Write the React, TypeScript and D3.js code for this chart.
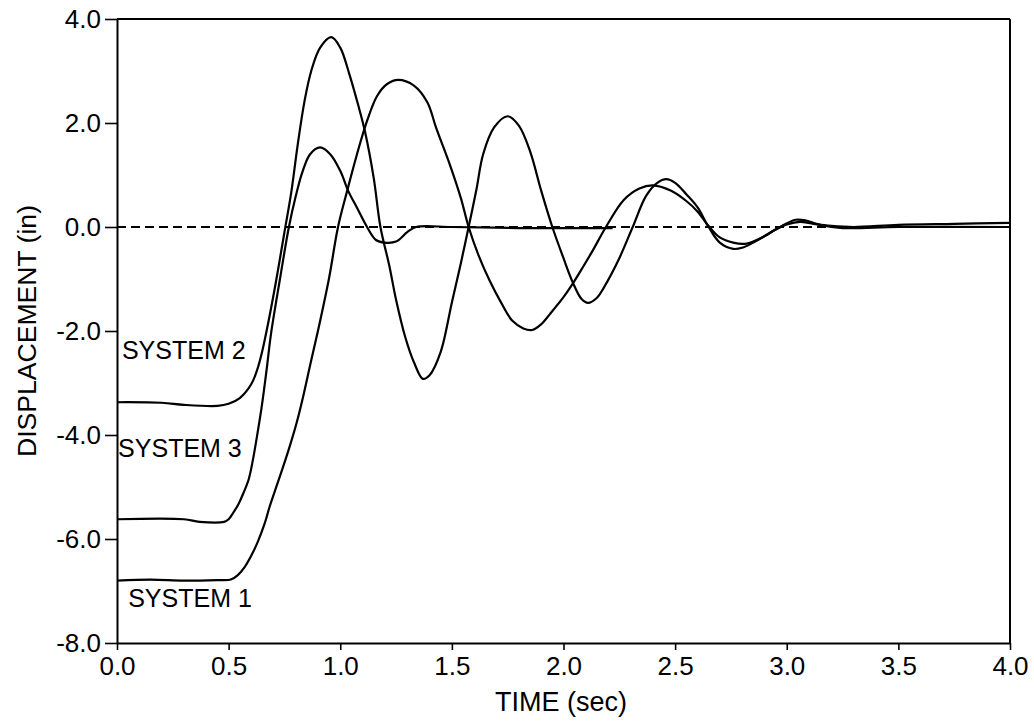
import React, { useEffect, useRef } from "react";
import * as d3 from "d3";

// ---- data ----
const sys1Time = [0, 0.15, 0.3, 0.45, 0.51, 0.54, 0.57, 0.6, 0.63, 0.66, 0.685, 0.715, 0.745, 0.775, 0.805, 0.835, 0.865, 0.9, 0.95, 0.99, 1.03, 1.075, 1.12, 1.165, 1.21, 1.26, 1.33, 1.39, 1.43, 1.49, 1.54, 1.575, 1.62, 1.67, 1.72, 1.77, 1.82, 1.86, 1.9, 1.94, 2.0, 2.04, 2.09, 2.13, 2.19, 2.27, 2.34, 2.4, 2.48, 2.55, 2.6, 2.65, 2.7, 2.76, 2.82, 2.88, 2.95, 3.0, 3.06, 3.12, 3.2, 3.3, 3.5, 3.75, 4.0];
const sys1Disp = [-6.8, -6.78, -6.8, -6.79, -6.78, -6.7, -6.55, -6.33, -6.06, -5.72, -5.36, -4.98, -4.6, -4.2, -3.76, -3.24, -2.66, -2.0, -0.98, 0, 0.68, 1.4, 2.04, 2.52, 2.75, 2.83, 2.72, 2.4, 1.9, 1.21, 0.56, 0, -0.55, -1.04, -1.45, -1.8, -1.95, -1.98, -1.87, -1.67, -1.35, -1.1, -0.75, -0.46, 0, 0.52, 0.74, 0.8, 0.7, 0.5, 0.3, 0.02, -0.2, -0.3, -0.32, -0.22, -0.05, 0.05, 0.1, 0.06, 0.02, 0.0, 0.04, 0.06, 0.08];

const sys2Time = [0, 0.2, 0.3, 0.45, 0.5, 0.55, 0.59, 0.61, 0.63, 0.65, 0.67, 0.71, 0.75, 0.78, 0.81, 0.84, 0.87, 0.91, 0.96, 1.0, 1.04, 1.08, 1.11, 1.15, 1.18, 1.22, 1.25, 1.29, 1.33, 1.37, 1.4, 1.45, 1.5, 1.54, 1.575, 1.61, 1.64, 1.69, 1.75, 1.8, 1.85, 1.9, 1.95, 2.0, 2.04, 2.08, 2.11, 2.15, 2.18, 2.25, 2.31, 2.37, 2.42, 2.46, 2.5, 2.55, 2.6, 2.65, 2.7, 2.76, 2.8, 2.85, 2.9, 2.97, 3.04, 3.09, 3.15, 3.25, 3.5, 4.0];
const sys2Disp = [-3.37, -3.38, -3.42, -3.44, -3.4, -3.29, -3.1, -2.95, -2.72, -2.4, -2.0, -1.1, -0.1, 0.65, 1.6, 2.42, 3.0, 3.45, 3.65, 3.45, 2.95, 2.35, 1.85, 0.94, 0, -0.75, -1.4, -2.1, -2.6, -2.92, -2.85, -2.4, -1.45, -0.7, 0, 0.72, 1.4, 1.92, 2.13, 1.95, 1.46, 0.7, 0, -0.6, -1.05, -1.38, -1.46, -1.36, -1.17, -0.6, 0, 0.6, 0.85, 0.92, 0.85, 0.63, 0.38, 0.0, -0.3, -0.42, -0.4, -0.3, -0.18, 0.0, 0.14, 0.12, 0.04, -0.02, 0.0, 0.0];

const sys3Time = [0, 0.3, 0.37, 0.48, 0.5, 0.52, 0.545, 0.565, 0.59, 0.61, 0.63, 0.65, 0.67, 0.69, 0.73, 0.77, 0.8, 0.83, 0.865, 0.91, 0.955, 1.0, 1.035, 1.075, 1.12, 1.16, 1.2, 1.25, 1.3, 1.34, 1.5, 1.8, 2.22];
const sys3Disp = [-5.62, -5.62, -5.67, -5.67, -5.62, -5.5, -5.32, -5.13, -4.85, -4.45, -3.95, -3.4, -2.75, -2.05, -1.0, 0.0, 0.58, 1.05, 1.4, 1.53, 1.4, 1.08, 0.7, 0.37, 0, -0.25, -0.3, -0.28, -0.1, 0.0, 0.0, -0.02, -0.02];

const seriesNames = ["SYSTEM 1", "SYSTEM 2", "SYSTEM 3"];

const xTicks = [0, 0.5, 1, 1.5, 2, 2.5, 3, 3.5, 4];
const xTickLabels = ["0.0", "0.5", "1.0", "1.5", "2.0", "2.5", "3.0", "3.5", "4.0"];
const yTicks = [-8, -6, -4, -2, 0, 2, 4];
const yTickLabels = ["-8.0", "-6.0", "-4.0", "-2.0", "0.0", "2.0", "4.0"];

const xTitle = "TIME (sec)";
const yTitle = "DISPLACEMENT (in)";

// ---- layout ----
const W = 1034;
const H = 721;
const FONT = "'Liberation Sans', Arial, Helvetica, sans-serif";

// where each series name sits, in data units (t, displacement baseline)
const labelAnchors = [
  [0.05, -7.31],
  [0.022, -2.53],
  [0.005, -4.42],
];

export default function App() {
  const xAxisRef = useRef<SVGGElement>(null);
  const yAxisRef = useRef<SVGGElement>(null);

  const x = d3.scaleLinear().domain([0, 4]).range([117, 1010]);
  const y = d3.scaleLinear().domain([-8, 4]).range([643, 19]);

  const series = [
    d3.zip(sys1Time, sys1Disp),
    d3.zip(sys2Time, sys2Disp),
    d3.zip(sys3Time, sys3Disp),
  ];

  const line = d3
    .line<number[]>()
    .x((d) => x(d[0]))
    .y((d) => y(d[1]))
    .curve(d3.curveCatmullRom.alpha(0.5));

  useEffect(() => {
    const gx = d3.select(xAxisRef.current);
    gx.selectAll("*").remove();
    gx.call(
      d3
        .axisBottom(x)
        .tickValues(xTicks)
        .tickFormat((d, i) => xTickLabels[i])
        .tickSize(7)
        .tickSizeOuter(0)
        .tickPadding(7)
    );
    gx.select(".domain").attr("stroke-width", 2);
    gx.selectAll(".tick line").attr("stroke-width", 1.6);
    gx.selectAll("text")
      .attr("font-family", FONT)
      .attr("font-size", 26)
      .attr("fill", "#000");

    const gy = d3.select(yAxisRef.current);
    gy.selectAll("*").remove();
    gy.call(
      d3
        .axisLeft(y)
        .tickValues(yTicks)
        .tickFormat((d, i) => yTickLabels[i])
        .tickSize(12)
        .tickSizeOuter(0)
        .tickPadding(4)
    );
    gy.select(".domain").attr("stroke-width", 2);
    gy.selectAll(".tick line").attr("stroke-width", 1.6);
    gy.selectAll("text")
      .attr("font-family", FONT)
      .attr("font-size", 26)
      .attr("fill", "#000");
  }, []);

  return (
    <svg
      width={W}
      height={H}
      style={{ position: "absolute", left: 0, top: 0, background: "#fff" }}
    >
      {/* frame top + right */}
      <line x1={x(0)} x2={x(4)} y1={y(4)} y2={y(4)} stroke="#000" strokeWidth={2} />
      <line x1={x(4)} x2={x(4)} y1={y(4)} y2={y(-8)} stroke="#000" strokeWidth={2} />

      {/* zero reference */}
      <line
        x1={x(0)}
        x2={x(4)}
        y1={y(0)}
        y2={y(0)}
        stroke="#000"
        strokeWidth={1.8}
        strokeDasharray="9,5"
      />

      {series.map((s, i) => (
        <path key={i} d={line(s) || ""} fill="none" stroke="#000" strokeWidth={2.2} strokeLinejoin="round" />
      ))}

      {seriesNames.map((name, i) => (
        <text
          key={name}
          x={x(labelAnchors[i][0])}
          y={y(labelAnchors[i][1])}
          fontFamily={FONT}
          fontSize={25}
          fill="#000"
        >
          {name}
        </text>
      ))}

      <g ref={xAxisRef} transform={`translate(0,${y(-8)})`} />
      <g ref={yAxisRef} transform={`translate(${x(0)},0)`} />

      <text
        x={561}
        y={711}
        textAnchor="middle"
        fontFamily={FONT}
        fontSize={27}
        fill="#000"
      >
        {xTitle}
      </text>
      <text
        transform={`translate(36,331) rotate(-90)`}
        textAnchor="middle"
        fontFamily={FONT}
        fontSize={25}
        textLength={252}
        lengthAdjust="spacingAndGlyphs"
        fill="#000"
      >
        {yTitle}
      </text>
    </svg>
  );
}
